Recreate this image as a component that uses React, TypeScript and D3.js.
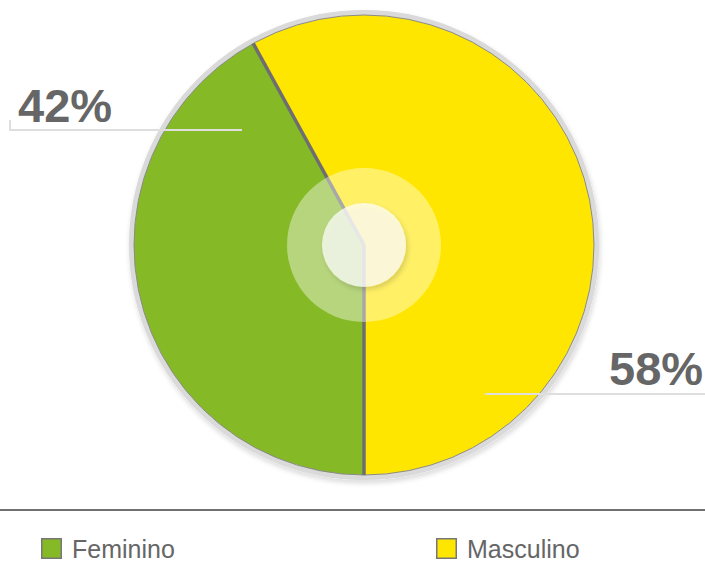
import React from "react";
import * as d3 from "d3";

// chart values
const categories = ["Feminino", "Masculino"];
const shares = [42, 58];
const colors = ["#85b925", "#ffe600"];

const W = 705;
const H = 562;
const FONT = "'Liberation Sans', Arial, Helvetica, sans-serif";

const App = () => {
  const cx = 364;
  const cy = 245;
  const r = 230;

  const data = categories.map((name, i) => ({ name, value: shares[i], color: colors[i] }));

  // pie starts at the bottom and runs clockwise
  const pie = d3
    .pie<any>()
    .sort(null)
    .value((d) => d.value)
    .startAngle(Math.PI)
    .endAngle(3 * Math.PI);
  const arcs = pie(data);

  const arcGen = d3.arc<any>().innerRadius(0).outerRadius(r);

  // label rows: left for the first slice, right for the second
  const labelRows = [
    { text: `${shares[0]}%`, x: 18, baseline: 122, lineY: 130, x1: 10, x2: 242, tick: true },
    { text: `${shares[1]}%`, x: 609, baseline: 385, lineY: 394, x1: 485, x2: W, tick: false },
  ];

  const legendX = [41, 436];

  return (
    <svg
      width={W}
      height={H}
      style={{ position: "absolute", left: 0, top: 0, background: "#fff" }}
    >
      <defs>
        <filter id="ringShadow" x="-10%" y="-10%" width="120%" height="120%">
          <feDropShadow dx="1" dy="3" stdDeviation="2.5" floodColor="#000" floodOpacity="0.16" />
        </filter>
        <filter id="dotShadow" x="-30%" y="-30%" width="160%" height="160%">
          <feDropShadow dx="2" dy="3" stdDeviation="2.5" floodColor="#000" floodOpacity="0.2" />
        </filter>
      </defs>

      {/* outer ring */}
      <circle cx={cx} cy={cy} r={r + 2.5} fill="none" stroke="#dadada" strokeWidth={5} filter="url(#ringShadow)" />

      <g transform={`translate(${cx},${cy})`}>
        {/* slices */}
        {arcs.map((a, i) => (
          <path key={i} d={arcGen(a) || ""} fill={a.data.color} />
        ))}
        <circle r={r} fill="none" stroke="#8a8a8a" strokeWidth={1} />
        {/* dividers at slice starts */}
        {arcs.map((a, i) => (
          <line
            key={i}
            x1={0}
            y1={0}
            x2={r * Math.sin(a.startAngle)}
            y2={-r * Math.cos(a.startAngle)}
            stroke="#6e6e72"
            strokeWidth={3.5}
          />
        ))}
        {/* center glass */}
        <circle r={77} fill="#fff" fillOpacity={0.4} />
        <circle r={42} fill="#fff" fillOpacity={0.72} filter="url(#dotShadow)" />
      </g>

      {/* leader lines and labels */}
      {labelRows.map((l, i) => (
        <g key={i}>
          <line x1={l.x1} x2={l.x2} y1={l.lineY} y2={l.lineY} stroke="#dedede" strokeWidth={2} />
          {l.tick && <line x1={l.x1} x2={l.x1} y1={l.lineY + 1} y2={l.lineY - 10} stroke="#dedede" strokeWidth={2} />}
          <text x={l.x} y={l.baseline} fontFamily={FONT} fontWeight="bold" fontSize={47} fill="#666">
            {l.text}
          </text>
        </g>
      ))}

      {/* legend */}
      <line x1={0} x2={W} y1={510} y2={510} stroke="#707070" strokeWidth={2} />
      {data.map((d, i) => (
        <g key={d.name} transform={`translate(${legendX[i]},538)`}>
          <rect x={0.75} y={0.75} width={19.5} height={19.5} fill={d.color} stroke="#777" strokeWidth={1.5} />
          <text x={31} y={20} fontFamily={FONT} fontSize={25} fill="#666">
            {d.name}
          </text>
        </g>
      ))}
    </svg>
  );
};

export default App;
